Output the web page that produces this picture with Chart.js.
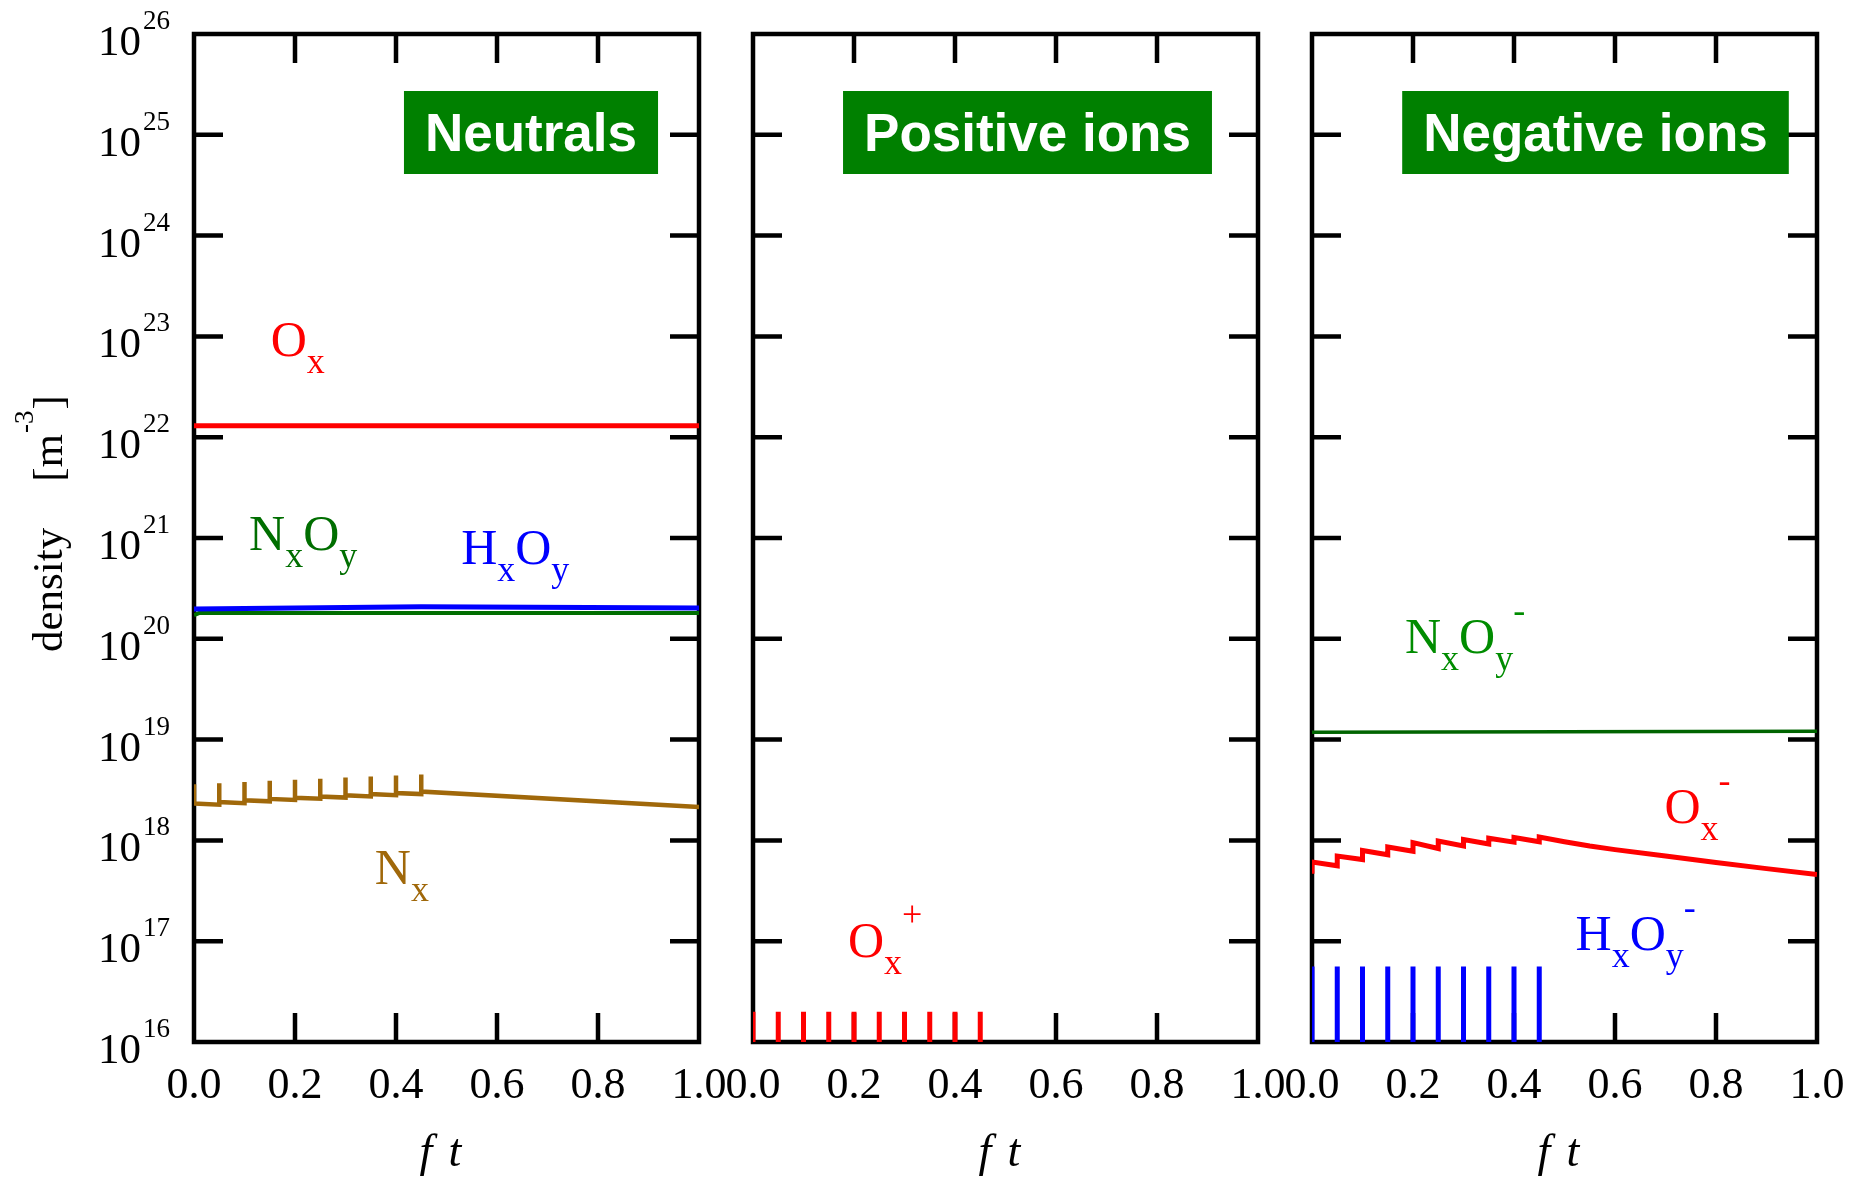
<!DOCTYPE html>
<html>
<head>
<meta charset="utf-8">
<script src="https://cdn.jsdelivr.net/npm/chart.js@4.4.1/dist/chart.umd.min.js"></script>
<style>
  html, body { margin: 0; padding: 0; background: #fff; }
  #wrap { position: relative; width: 1867px; height: 1178px; overflow: hidden; }
  canvas { position: absolute; left: 0; top: 0; }
</style>
</head>
<body>
<div id="wrap">
  <canvas id="c1" width="1867" height="1178"></canvas>
  <canvas id="c2" width="1867" height="1178"></canvas>
  <canvas id="c3" width="1867" height="1178"></canvas>
</div>
<script>
// y axis decades (log scale), 10^16 .. 10^26
const yExponents = [16, 17, 18, 19, 20, 21, 22, 23, 24, 25, 26];

// ---- Neutrals ----
const oxT = [0, 1];
const oxV = [1.3e22, 1.3e22];
const hxoyT = [0, 0.45, 1];
const hxoyV = [1.98e20, 2.08e20, 2.02e20];
const nxoyT = [0, 0.01, 1];
const nxoyV = [1.72e20, 1.8e20, 1.8e20];
// N_x: pulse spike (before, peak, after) every 0.05 up to 0.45, then decay
const nxT = [0, 0, 0, 0.05, 0.05, 0.05, 0.1, 0.1, 0.1, 0.15, 0.15, 0.15, 0.2, 0.2, 0.2,
  0.25, 0.25, 0.25, 0.3, 0.3, 0.3, 0.35, 0.35, 0.35, 0.4, 0.4, 0.4, 0.45, 0.45, 0.45, 1];
const nxV = [2.25e18, 3.6e18, 2.32e18, 2.26e18, 3.7e18, 2.40e18, 2.34e18, 3.8e18, 2.50e18,
  2.44e18, 3.9e18, 2.58e18, 2.52e18, 4.0e18, 2.65e18, 2.59e18, 4.1e18, 2.72e18,
  2.66e18, 4.2e18, 2.80e18, 2.73e18, 4.3e18, 2.88e18, 2.81e18, 4.4e18, 2.95e18,
  2.88e18, 4.5e18, 3.05e18, 2.15e18];

// ---- Positive ions ---- (below 1e16 between pulses)
const oxpT = [0, 0, 0, 0.05, 0.05, 0.05, 0.1, 0.1, 0.1, 0.15, 0.15, 0.15, 0.2, 0.2, 0.2,
  0.25, 0.25, 0.25, 0.3, 0.3, 0.3, 0.35, 0.35, 0.35, 0.4, 0.4, 0.4, 0.45, 0.45, 0.45];
const oxpV = [1e15, 2e16, 1e15, 1e15, 2e16, 1e15, 1e15, 2e16, 1e15, 1e15, 2e16, 1e15,
  1e15, 2e16, 1e15, 1e15, 2e16, 1e15, 1e15, 2e16, 1e15, 1e15, 2e16, 1e15,
  1e15, 2e16, 1e15, 1e15, 2e16, 1e15];

// ---- Negative ions ----
const nxoymT = [0, 1];
const nxoymV = [1.18e19, 1.21e19];
const oxmT = [0, 0, 0.05, 0.05, 0.1, 0.1, 0.15, 0.15, 0.2, 0.2, 0.25, 0.25, 0.3, 0.3,
  0.35, 0.35, 0.4, 0.4, 0.45, 0.45, 0.5, 0.55, 0.6, 0.7, 0.8, 0.9, 1];
const oxmV = [4.67e17, 6.1e17, 5.6e17, 7.0e17, 6.45e17, 7.95e17, 7.2e17, 8.6e17,
  7.8e17, 9.5e17, 8.3e17, 9.86e17, 8.8e17, 1.02e18, 9.2e17, 1.05e18,
  9.6e17, 1.07e18, 9.7e17, 1.08e18, 9.7e17, 8.8e17, 8.1e17, 7.0e17, 6.05e17, 5.25e17, 4.6e17];
const hxoymT = [0, 0, 0, 0.05, 0.05, 0.05, 0.1, 0.1, 0.1, 0.15, 0.15, 0.15, 0.2, 0.2, 0.2,
  0.25, 0.25, 0.25, 0.3, 0.3, 0.3, 0.35, 0.35, 0.35, 0.4, 0.4, 0.4, 0.45, 0.45, 0.45];
const hxoymV = [1e15, 5.6e16, 1e15, 1e15, 5.6e16, 1e15, 1e15, 5.6e16, 1e15, 1e15, 5.6e16, 1e15,
  1e15, 5.6e16, 1e15, 1e15, 5.6e16, 1e15, 1e15, 5.6e16, 1e15, 1e15, 5.6e16, 1e15,
  1e15, 5.6e16, 1e15, 1e15, 5.6e16, 1e15];

const RED = '#ff0000', BLUE = '#0000ff', GREEN = '#006e00', BROWN = '#a0680a';
const SERIF = '"Liberation Serif", "Times New Roman", serif';
const TICK = 29;

function pts(t, v) {
  return t.map((x, i) => ({ x: x, y: v[i] }));
}

function line(t, v, color, width) {
  return { data: pts(t, v), borderColor: color, borderWidth: width || 5, pointRadius: 0, tension: 0, fill: false };
}

// draws text like N_xO_y^- : "_" = subscript, "^" = superscript
function chem(ctx, str, x, y, color) {
  ctx.fillStyle = color;
  ctx.textAlign = 'left';
  ctx.textBaseline = 'alphabetic';
  let cx = x;
  for (let i = 0; i < str.length; i++) {
    let ch = str[i], dy = 0, size = 50;
    if (ch === '_' || ch === '^') {
      dy = ch === '_' ? 17 : -31;
      size = 36;
      ch = str[++i];
    }
    ctx.font = size + 'px ' + SERIF;
    ctx.fillText(ch, cx, y + dy);
    cx += ctx.measureText(ch).width;
  }
}

const panelPlugin = {
  id: 'panel',
  beforeDatasetsDraw(chart, args, o) {
    const { ctx, chartArea: a, scales: { x, y } } = chart;
    ctx.save();
    ctx.strokeStyle = '#000';
    ctx.lineWidth = 4.5;
    ctx.lineJoin = 'miter';
    ctx.strokeRect(a.left, a.top, a.right - a.left, a.bottom - a.top);
    ctx.beginPath();
    x.ticks.forEach(t => {
      if (t.value <= x.min || t.value >= x.max) return;
      const px = x.getPixelForValue(t.value);
      ctx.moveTo(px, a.bottom); ctx.lineTo(px, a.bottom - TICK);
      ctx.moveTo(px, a.top); ctx.lineTo(px, a.top + TICK);
    });
    y.ticks.forEach(t => {
      if (t.value <= y.min * 1.01 || t.value >= y.max * 0.99) return;
      const py = y.getPixelForValue(t.value);
      ctx.moveTo(a.left, py); ctx.lineTo(a.left + TICK, py);
      ctx.moveTo(a.right, py); ctx.lineTo(a.right - TICK, py);
    });
    ctx.stroke();
    ctx.restore();
  },
  afterDraw(chart, args, o) {
    const { ctx, chartArea: a, scales: { x, y } } = chart;
    ctx.save();
    // title box
    ctx.font = 'bold 53px "Liberation Sans", Arial, sans-serif';
    const tw = ctx.measureText(o.title).width;
    const bw = tw + 42, bcx = a.left + o.boxCenter;
    ctx.fillStyle = '#008000';
    ctx.fillRect(bcx - bw / 2, a.top + 57, bw, 83);
    ctx.fillStyle = '#fff';
    ctx.textAlign = 'center';
    ctx.textBaseline = 'alphabetic';
    ctx.fillText(o.title, bcx, a.top + 117);

    // species labels, anchored in data coordinates
    o.labels.forEach(l => chem(ctx, l.text, x.getPixelForValue(l.t), y.getPixelForValue(l.v), l.color));

    // x title "f t"
    const mid = (a.left + a.right) / 2;
    ctx.fillStyle = '#000';
    ctx.font = 'italic 46px ' + SERIF;
    ctx.textAlign = 'left';
    ctx.fillText('f', mid - 27, a.bottom + 124);
    ctx.fillText('t', mid + 2, a.bottom + 124);

    if (o.yLabels) {
      y.ticks.forEach(t => {
        const py = y.getPixelForValue(t.value);
        const exp = String(Math.round(Math.log10(t.value)));
        ctx.font = '27px ' + SERIF;
        const sw = ctx.measureText(exp).width;
        const rx = a.left - 24;
        ctx.textAlign = 'left';
        ctx.fillText(exp, rx - sw, py - 5);
        ctx.font = '43px ' + SERIF;
        ctx.textAlign = 'right';
        ctx.fillText('10', rx - sw - 2, py + 21);
      });
      // y title
      ctx.save();
      ctx.translate(62, 652);
      ctx.rotate(-Math.PI / 2);
      ctx.textAlign = 'left';
      ctx.font = '43px ' + SERIF;
      ctx.fillText('density', 0, 0);
      let cx = ctx.measureText('density').width + 46;
      ctx.fillText('[m', cx, 0);
      cx += ctx.measureText('[m').width;
      ctx.font = '27px ' + SERIF;
      ctx.fillText('-3', cx + 1, -29);
      cx += ctx.measureText('-3').width + 2;
      ctx.font = '43px ' + SERIF;
      ctx.fillText(']', cx, 0);
      ctx.restore();
    }
    ctx.restore();
  }
};

function makePanel(id, left, right, datasets, opts) {
  return new Chart(document.getElementById(id), {
    type: 'line',
    data: { datasets: datasets },
    options: {
      responsive: false,
      animation: false,
      devicePixelRatio: 1,
      layout: { padding: { left: left, right: 1867 - right, top: 34, bottom: 36 } },
      plugins: { legend: { display: false }, tooltip: { enabled: false }, panel: opts },
      scales: {
        x: {
          type: 'linear', min: 0, max: 1,
          ticks: {
            stepSize: 0.2, autoSkip: false, maxRotation: 0, padding: 18,
            color: '#000', font: { family: SERIF, size: 44 },
            callback: v => v.toFixed(1)
          },
          grid: { display: false, drawTicks: false },
          border: { display: false },
          afterFit: s => { s.height = 100; }
        },
        y: {
          type: 'logarithmic', min: 1e16, max: 1e26, display: false,
          afterBuildTicks: s => { s.ticks = yExponents.map(e => ({ value: Math.pow(10, e) })); }
        }
      }
    },
    plugins: [panelPlugin]
  });
}

Chart.defaults.font.family = SERIF;

makePanel('c1', 194, 699, [
  line(hxoyT, hxoyV, BLUE, 5),
  line(nxoyT, nxoyV, GREEN, 4),
  line(oxT, oxV, RED, 5),
  line(nxT, nxV, BROWN, 4.5)
], {
  title: 'Neutrals', boxCenter: 337, yLabels: true,
  labels: [
    { text: 'O_x', t: 0.152, v: Math.pow(10, 22.806), color: RED },
    { text: 'N_xO_y', t: 0.109, v: Math.pow(10, 20.881), color: GREEN },
    { text: 'H_xO_y', t: 0.529, v: Math.pow(10, 20.742), color: BLUE },
    { text: 'N_x', t: 0.358, v: Math.pow(10, 17.567), color: BROWN }
  ]
});

makePanel('c2', 753, 1258, [
  line(oxpT, oxpV, RED, 5)
], {
  title: 'Positive ions', boxCenter: 274.5, yLabels: false,
  labels: [
    { text: 'O_x^+', t: 0.188, v: Math.pow(10, 16.846), color: RED }
  ]
});

makePanel('c3', 1312, 1817, [
  line(nxoymT, nxoymV, '#006400', 3.5),
  line(oxmT, oxmV, RED, 5),
  line(hxoymT, hxoymV, BLUE, 5)
], {
  title: 'Negative ions', boxCenter: 283.5, yLabels: false,
  labels: [
    { text: 'N_xO_y^-', t: 0.184, v: Math.pow(10, 19.859), color: '#008c00' },
    { text: 'O_x^-', t: 0.698, v: Math.pow(10, 18.168), color: RED },
    { text: 'H_xO_y^-', t: 0.522, v: Math.pow(10, 16.913), color: BLUE }
  ]
});
</script>
</body>
</html>
